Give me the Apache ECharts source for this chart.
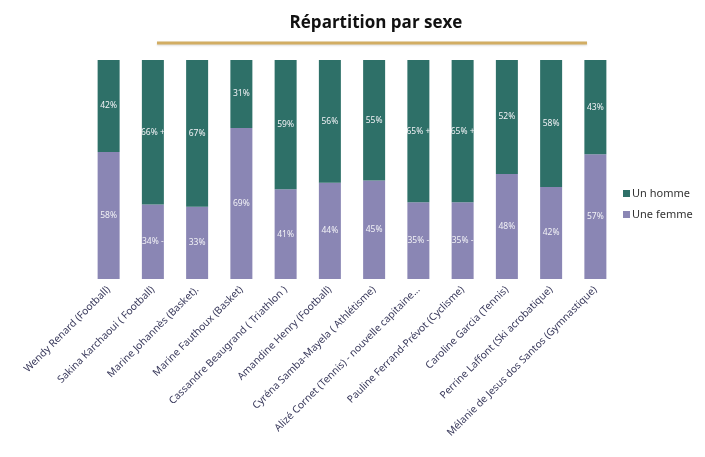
<!DOCTYPE html>
<html>
<head>
<meta charset="utf-8">
<script src="https://cdn.jsdelivr.net/npm/echarts@6/dist/echarts.min.js"></script>
<style>html,body{margin:0;padding:0;background:#fff;}#c{width:705px;height:457px;}</style>
</head>
<body>
<div id="c"></div>
<script>
var categories = [
  "Wendy Renard (Football)",
  "Sakina Karchaoui ( Football)",
  "Marine Johannès (Basket).",
  "Marine Fauthoux (Basket)",
  "Cassandre Beaugrand ( Triathlon )",
  "Amandine Henry (Football)",
  "Cyréna Samba-Mayela ( Athlétisme)",
  "Alizé Cornet (Tennis) - nouvelle capitaine...",
  "Pauline Ferrand-Prévot (Cyclisme)",
  "Caroline Garcia (Tennis)",
  "Perrine Laffont (Ski acrobatique)",
  "Mélanie de Jesus dos Santos (Gymnastique)"
];
var femmeValues = [58, 34, 33, 69, 41, 44, 45, 35, 35, 48, 42, 57];
var hommeValues = [42, 66, 67, 31, 59, 56, 55, 65, 65, 52, 58, 43];
var femmeSuffix = ["", " -", "", "", "", "", "", " -", " -", "", "", ""];
var hommeSuffix = ["", " +", "", "", "", "", "", " +", " +", "", "", ""];
var seriesNames = ["Un homme", "Une femme"];
var titleText = "Répartition par sexe";

var chart = echarts.init(document.getElementById('c'));
function lab(suffix) {
  return {
    show: true, position: 'inside', color: '#f2f2f6', fontSize: 8.5,
    fontFamily: 'Noto Sans',
    formatter: function (p) { return p.value + '%' + suffix[p.dataIndex]; }
  };
}
chart.setOption({
  animation: false,
  title: {
    text: titleText, left: 371, top: 10, textAlign: 'center',
    textStyle: { fontFamily: 'Open Sans', fontWeight: 'bold', fontSize: 17, color: '#111' }
  },
  graphic: [{
    type: 'rect', shape: { x: 157, y: 41.5, width: 430, height: 3 },
    style: { fill: '#d2ad63', shadowColor: 'rgba(0,0,0,0.15)', shadowBlur: 2, shadowOffsetY: 1 }
  }],
  legend: {
    data: seriesNames, orient: 'vertical', left: 618, top: 183,
    itemWidth: 7, itemHeight: 7, itemGap: 10, icon: 'rect',
    textStyle: { fontSize: 11, color: '#333', fontFamily: 'Noto Sans', padding: [0, 0, 0, -3] }
  },
  grid: { left: 86.5, right: 87.5, top: 60, bottom: 178, containLabel: false },
  xAxis: {
    type: 'category', data: categories,
    axisLine: { show: false }, axisTick: { show: false },
    axisLabel: { rotate: 45, interval: 0, margin: 9, fontSize: 10.2, color: '#3a3a5c', fontFamily: 'Noto Sans' }
  },
  yAxis: { type: 'value', min: 0, max: 100, show: false, splitLine: { show: false } },
  series: [
    { name: 'Une femme', type: 'bar', stack: 's', data: femmeValues, barWidth: 22,
      itemStyle: { color: '#8a86b4' }, label: lab(femmeSuffix) },
    { name: 'Un homme', type: 'bar', stack: 's', data: hommeValues, barWidth: 22,
      itemStyle: { color: '#2e7068' }, label: lab(hommeSuffix) }
  ]
});
</script>
</body>
</html>
